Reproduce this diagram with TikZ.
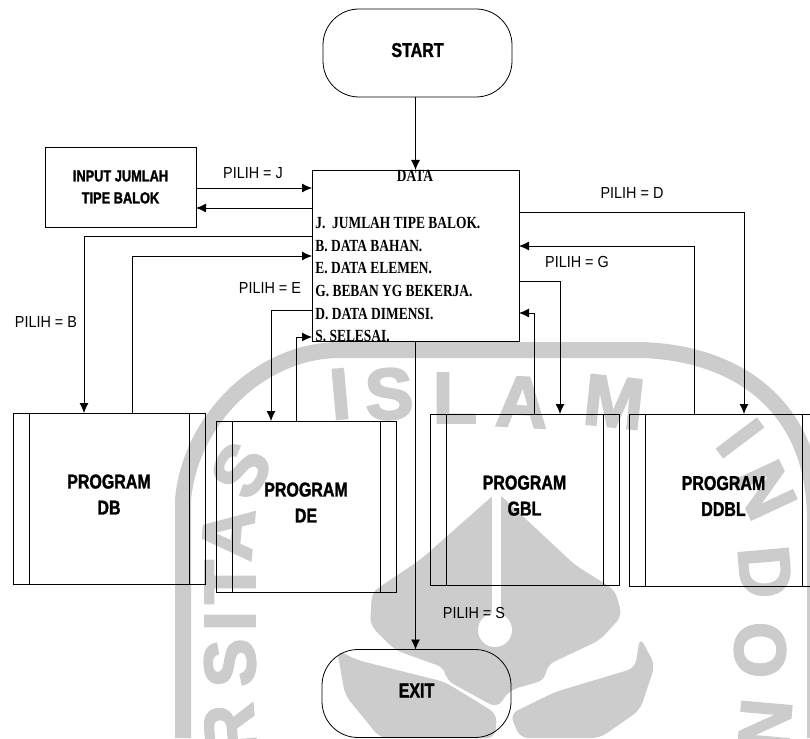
\documentclass[tikz,border=0pt]{standalone}
\usepackage{fontspec}
\usetikzlibrary{arrows.meta, calc}
\setmainfont{Liberation Serif}
\newfontfamily\headfont[FakeStretch=0.8, BoldFeatures={FakeBold=1.5}]{Liberation Sans}
\newfontfamily\pilihfont[FakeStretch=0.9]{Liberation Sans}
\newfontfamily\menufont[FakeStretch=0.79]{Liberation Serif}
\newfontfamily\wmfont[BoldFeatures={FakeBold=3}]{Liberation Sans}
\definecolor{wmgrey}{gray}{0.8}

\begin{document}
\begin{tikzpicture}[
    x=1pt, y=-1pt,
    terminal/.style={rectangle, draw, rounded corners=36pt, minimum width=189pt, minimum height=88pt, inner sep=0pt, outer sep=0pt, text depth=6pt, font=\headfont\bfseries\fontsize{20}{24}\selectfont},
    box/.style={rectangle, draw, inner sep=0pt, outer sep=0pt},
    prog/.style={box, align=center, text depth=8pt, font=\headfont\bfseries\fontsize{20}{26}\selectfont},
    menu/.style={anchor=base west, inner sep=0pt, font=\menufont\bfseries\fontsize{17}{20}\selectfont},
    pilih/.style={inner sep=0pt, font=\pilihfont\fontsize{16}{19}\selectfont},
    wm/.style={inner sep=0pt, text=wmgrey, font=\wmfont\bfseries\fontsize{72}{74}\selectfont},
    arrow/.style={-{Latex[length=10pt, width=9pt]}, line width=0.8pt},
    line width=0.8pt,
]
\useasboundingbox (0,0) rectangle (810,738);
\clip (0,0) rectangle (810,738);

%% WATERMARK
    % ring
    \draw[wmgrey, line width=16pt] (183,738) -- (183,500) .. controls (190,420) and (260,350) .. (340,350) -- (640,350) .. controls (730,352) and (815,400) .. (815,520) -- (815,738);
    % letters
    \foreach \i/\ch/\px/\py/\rot in {1/I/340/394/5, 2/S/389/394/3, 3/L/455/398/0, 4/A/522/402/-3, 5/M/614/402/-6,
        6/I/740/438/-53, 7/N/765/490/-65, 8/D/765/572/-85, 9/O/760/650/-90, 10/N/765/725/-95,
        11/S/241/470/60, 12/A/228/534/85, 13/T/230/582/90, 14/I/230/621/90, 15/S/230/663/92, 16/R/230/730/95} {
        \node[wm, rotate=\rot] (wm_\i) at (\px,\py) {\ch};
    }
    % emblem
    \fill[wmgrey, rounded corners=8pt] (497,492) -- (420,560) -- (372,592) -- (370,625) -- (395,650) -- (445,668) -- (446,680) -- (497,708) -- (510,690) -- (545,680) -- (547,665) -- (600,640) -- (622,616) -- (615,590) -- (575,565) -- cycle;
    \fill[wmgrey, rounded corners=8pt] (337,650) -- (357,660) -- (445,682) -- (497,714) -- (495,738) -- (380,738) -- (345,695) -- cycle;
    \fill[wmgrey, rounded corners=8pt] (640,637) -- (655,665) -- (640,710) -- (600,738) -- (520,738) -- (510,714) -- (555,692) -- (635,668) -- cycle;
    \fill[white] (495,630) circle (17);
    \draw[white, line width=9pt] (496,488) -- (496,620);

%% NODES
    % start and exit
    \node[terminal] (start) at (417.5,53) {START};
    \node[terminal] (exit) at (416.5,693.5) {EXIT};

    % menu
    \node[box, minimum width=207pt, minimum height=171pt] (data) at (415.5,255.5) {};
    \node[menu, anchor=base] (data_title) at (415,182) {DATA};
    \node[menu] (menu_j) at (315,228) {J.\ \ JUMLAH TIPE BALOK.};
    \node[menu] (menu_b) at (315,251) {B. DATA BAHAN.};
    \node[menu] (menu_e) at (315,273) {E. DATA ELEMEN.};
    \node[menu] (menu_g) at (315,296) {G. BEBAN YG BEKERJA.};
    \node[menu] (menu_d) at (315,319) {D. DATA DIMENSI.};
    \node[menu] (menu_s) at (315,341) {S. SELESAI.};

    % input
    \node[box, align=center, minimum width=151pt, minimum height=80pt, font=\headfont\bfseries\fontsize{16}{22}\selectfont] (input) at (120.5,187) {INPUT JUMLAH\\TIPE BALOK};

    % programs
    \node[prog, minimum width=192pt, minimum height=171pt] (db) at (109,498.5) {PROGRAM\\DB};
    \node[prog, minimum width=180pt, minimum height=171pt] (de) at (306,506.5) {PROGRAM\\DE};
    \node[prog, minimum width=189pt, minimum height=171pt] (gbl) at (524.5,499.5) {PROGRAM\\GBL};
    \node[prog, minimum width=189pt, minimum height=172pt] (ddbl) at (723.5,500) {PROGRAM\\DDBL};
    \foreach \nm in {db, de, gbl, ddbl} {
        \draw ([xshift=16pt]\nm.north west) -- ([xshift=16pt]\nm.south west);
        \draw ([xshift=-16pt]\nm.north east) -- ([xshift=-16pt]\nm.south east);
    }

    % labels
    \node[pilih] (pilih_j) at (253,173) {PILIH = J};
    \node[pilih] (pilih_b) at (46,322) {PILIH = B};
    \node[pilih] (pilih_e) at (270,288) {PILIH = E};
    \node[pilih] (pilih_d) at (632,193) {PILIH = D};
    \node[pilih] (pilih_g) at (577,262) {PILIH = G};
    \node[pilih] (pilih_s) at (474,613) {PILIH = S};

    % levels on the menu box and ports on the program boxes
    \coordinate (lev_j) at (0,188);
    \coordinate (lev_j_back) at (0,208);
    \coordinate (lev_b) at (0,236);
    \coordinate (lev_b_back) at (0,256);
    \coordinate (lev_e) at (0,310);
    \coordinate (lev_e_back) at (0,337);
    \coordinate (lev_d) at (0,212);
    \coordinate (lev_d_back) at (0,246);
    \coordinate (lev_g) at (0,281);
    \coordinate (lev_g_back) at (0,313);
    \coordinate (db_in) at (84,413);
    \coordinate (db_out) at (132,413);
    \coordinate (de_in) at (271,421);
    \coordinate (de_out) at (296,421);
    \coordinate (gbl_in) at (560,414);
    \coordinate (gbl_out) at (534,414);
    \coordinate (ddbl_in) at (744,414);
    \coordinate (ddbl_out) at (694,414);

%% CONNECTIONS
    % start -> menu -> exit
    \draw[arrow] (start.south -| data.north) -- (data.north);
    \draw[arrow] (data.south) -- (exit.north -| data.south);

    % menu <-> input
    \draw[arrow] (input.east |- lev_j) -- (data.west |- lev_j);
    \draw[arrow] (data.west |- lev_j_back) -- (input.east |- lev_j_back);

    % menu <-> DB
    \draw[arrow] (data.west |- lev_b) -| (db_in);
    \draw[arrow] (db_out) |- (data.west |- lev_b_back);

    % menu <-> DE
    \draw[arrow] (data.west |- lev_e) -| (de_in);
    \draw[arrow] (de_out) |- (data.west |- lev_e_back);

    % menu <-> GBL
    \draw[arrow] (data.east |- lev_g) -| (gbl_in);
    \draw[arrow] (gbl_out) |- (data.east |- lev_g_back);

    % menu <-> DDBL
    \draw[arrow] (data.east |- lev_d) -| (ddbl_in);
    \draw[arrow] (ddbl_out) |- (data.east |- lev_d_back);

\end{tikzpicture}
\end{document}
